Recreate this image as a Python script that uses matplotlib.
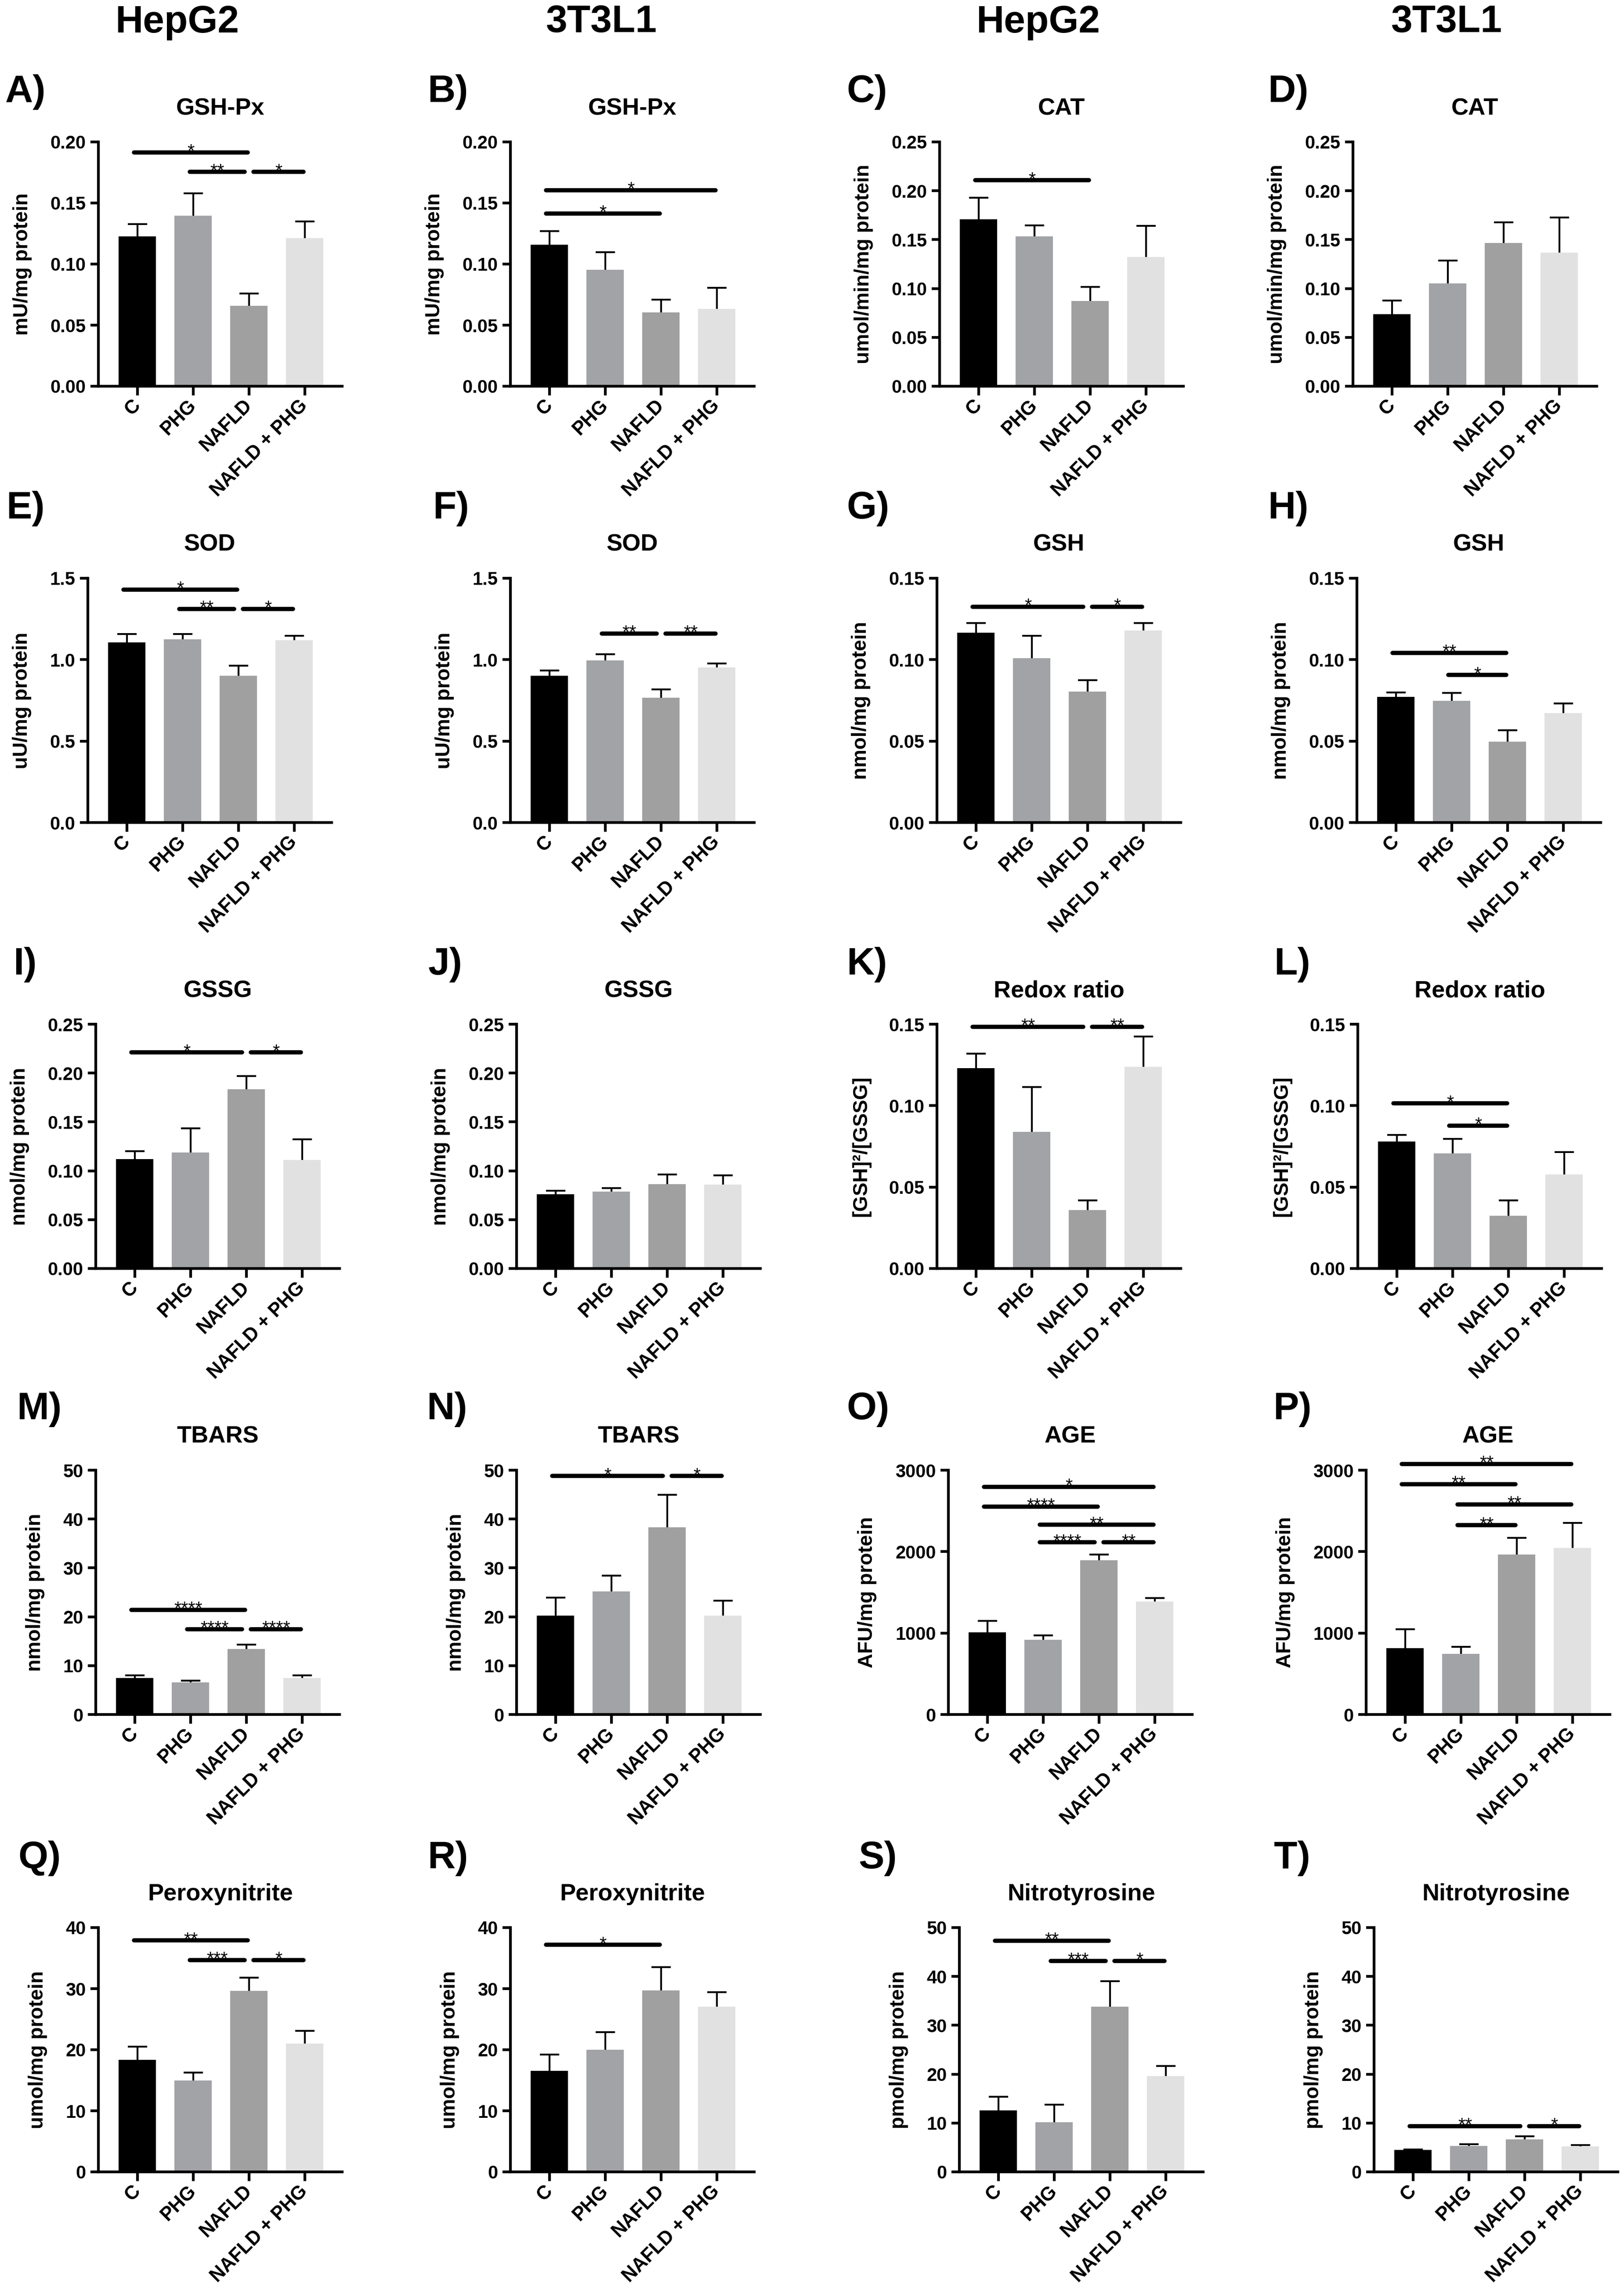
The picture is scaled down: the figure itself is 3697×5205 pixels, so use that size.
import numpy as np
import matplotlib
matplotlib.use('Agg')
import matplotlib.pyplot as plt
from matplotlib.ticker import FormatStrFormatter

plt.rcParams['font.family'] = ['Liberation Sans', 'DejaVu Sans']
plt.rcParams['font.weight'] = 'bold'
plt.rcParams['axes.linewidth'] = 1.5

# ---------------- data ----------------
groups = ['C', 'PHG', 'NAFLD', 'NAFLD + PHG']
bar_colors = ['#000000', '#a2a3a7', '#a0a0a0', '#e1e1e1']
column_headers = ['HepG2', '3T3L1', 'HepG2', '3T3L1']

# means / SEM
gshpx_hepg2 = [0.1228, 0.1394, 0.0659, 0.1212]
gshpx_hepg2_err = [0.0099, 0.0186, 0.0101, 0.0136]
gshpx_3t3 = [0.116, 0.0953, 0.0604, 0.0634]
gshpx_3t3_err = [0.011, 0.0144, 0.0103, 0.017]
cat_hepg2 = [0.1708, 0.1533, 0.0873, 0.1323]
cat_hepg2_err = [0.0221, 0.0112, 0.0143, 0.0319]
cat_3t3 = [0.0738, 0.1053, 0.1467, 0.1366]
cat_3t3_err = [0.014, 0.0233, 0.0212, 0.0359]
sod_hepg2 = [1.106, 1.125, 0.902, 1.119]
sod_hepg2_err = [0.051, 0.032, 0.061, 0.028]
sod_3t3 = [0.902, 0.995, 0.766, 0.953]
sod_3t3_err = [0.032, 0.038, 0.051, 0.023]
gsh_hepg2 = [0.1166, 0.101, 0.0804, 0.1179]
gsh_hepg2_err = [0.0058, 0.0137, 0.007, 0.0045]
gsh_3t3 = [0.0772, 0.0747, 0.0496, 0.0671]
gsh_3t3_err = [0.0026, 0.0048, 0.007, 0.006]
gssg_hepg2 = [0.112, 0.1185, 0.1836, 0.111]
gssg_hepg2_err = [0.008, 0.0249, 0.0134, 0.021]
gssg_3t3 = [0.0759, 0.0786, 0.0865, 0.086]
gssg_3t3_err = [0.0038, 0.0037, 0.0095, 0.0095]
redox_hepg2 = [0.123, 0.084, 0.036, 0.1237]
redox_hepg2_err = [0.0089, 0.0273, 0.0057, 0.0187]
redox_3t3 = [0.0779, 0.0708, 0.0325, 0.0576]
redox_3t3_err = [0.0041, 0.0089, 0.0092, 0.014]
tbars_hepg2 = [7.45, 6.6, 13.4, 7.45]
tbars_hepg2_err = [0.53, 0.3, 0.86, 0.53]
tbars_3t3 = [20.2, 25.2, 38.3, 20.2]
tbars_3t3_err = [3.7, 3.2, 6.7, 3.1]
age_hepg2 = [1009, 919, 1896, 1385]
age_hepg2_err = [140, 51, 70, 45]
age_3t3 = [817, 747, 1966, 2043]
age_3t3_err = [230, 83, 204, 312]
peroxy_hepg2 = [18.35, 15.0, 29.66, 20.99]
peroxy_hepg2_err = [2.18, 1.27, 2.13, 2.13]
peroxy_3t3 = [16.53, 20.0, 29.7, 27.06]
peroxy_3t3_err = [2.67, 2.9, 3.8, 2.39]
nitro_hepg2 = [12.55, 10.2, 33.8, 19.6]
nitro_hepg2_err = [2.79, 3.6, 5.2, 2.1]
nitro_3t3 = [4.5, 5.32, 6.65, 5.2]
nitro_3t3_err = [0.13, 0.38, 0.64, 0.31]

# significance brackets: (group i, group j, height, label)
sig_A = [(0, 2, 0.1915, '*'), (1, 2, 0.1754, '**'), (2, 3, 0.1754, '*')]
sig_B = [(0, 3, 0.1605, '*'), (0, 2, 0.1415, '*')]
sig_C = [(0, 2, 0.2107, '*')]
sig_D = []
sig_E = [(0, 2, 1.43, '*'), (1, 2, 1.312, '**'), (2, 3, 1.312, '*')]
sig_F = [(1, 2, 1.16, '**'), (2, 3, 1.16, '**')]
sig_G = [(0, 2, 0.1325, '*'), (2, 3, 0.1325, '*')]
sig_H = [(0, 2, 0.1042, '**'), (1, 2, 0.0906, '*')]
sig_I = [(0, 2, 0.221, '*'), (2, 3, 0.221, '*')]
sig_J = []
sig_K = [(0, 2, 0.1484, '**'), (2, 3, 0.1484, '**')]
sig_L = [(0, 2, 0.1014, '*'), (1, 2, 0.0877, '*')]
sig_M = [(0, 2, 21.4, '****'), (1, 2, 17.45, '****'), (2, 3, 17.45, '****')]
sig_N = [(0, 2, 48.8, '*'), (2, 3, 48.8, '*')]
sig_O = [(0, 3, 2796, '*'), (0, 2, 2553, '****'), (1, 3, 2330, '**'),
         (1, 2, 2113, '****'), (2, 3, 2113, '**')]
sig_P = [(0, 3, 3077, '**'), (0, 2, 2828, '**'), (1, 3, 2579, '**'), (1, 2, 2323, '**')]
sig_Q = [(0, 2, 37.9, '**'), (1, 2, 34.7, '***'), (2, 3, 34.7, '*')]
sig_R = [(0, 2, 37.16, '*')]
sig_S = [(0, 2, 47.3, '**'), (1, 2, 43.2, '***'), (2, 3, 43.2, '*')]
sig_T = [(0, 2, 9.38, '**'), (2, 3, 9.38, '*')]

titles = ['GSH-Px', 'GSH-Px', 'CAT', 'CAT',
          'SOD', 'SOD', 'GSH', 'GSH',
          'GSSG', 'GSSG', 'Redox ratio', 'Redox ratio',
          'TBARS', 'TBARS', 'AGE', 'AGE',
          'Peroxynitrite', 'Peroxynitrite', 'Nitrotyrosine', 'Nitrotyrosine']
ylabels = ['mU/mg protein', 'mU/mg protein', 'umol/min/mg protein', 'umol/min/mg protein',
           'uU/mg protein', 'uU/mg protein', 'nmol/mg protein', 'nmol/mg protein',
           'nmol/mg protein', 'nmol/mg protein', '[GSH]\u00b2/[GSSG]', '[GSH]\u00b2/[GSSG]',
           'nmol/mg protein', 'nmol/mg protein', 'AFU/mg protein', 'AFU/mg protein',
           'umol/mg protein', 'umol/mg protein', 'pmol/mg protein', 'pmol/mg protein']
letters = ['A)', 'B)', 'C)', 'D)', 'E)', 'F)', 'G)', 'H)', 'I)', 'J)',
           'K)', 'L)', 'M)', 'N)', 'O)', 'P)', 'Q)', 'R)', 'S)', 'T)']
ymax = [0.20, 0.20, 0.25, 0.25, 1.5, 1.5, 0.15, 0.15, 0.25, 0.25,
        0.15, 0.15, 50, 50, 3000, 3000, 40, 40, 50, 50]
ystep = [0.05, 0.05, 0.05, 0.05, 0.5, 0.5, 0.05, 0.05, 0.05, 0.05,
         0.05, 0.05, 10, 10, 1000, 1000, 10, 10, 10, 10]
yfmt = ['%.2f'] * 4 + ['%.1f'] * 2 + ['%.2f'] * 6 + ['%d'] * 8

means = [gshpx_hepg2, gshpx_3t3, cat_hepg2, cat_3t3,
         sod_hepg2, sod_3t3, gsh_hepg2, gsh_3t3,
         gssg_hepg2, gssg_3t3, redox_hepg2, redox_3t3,
         tbars_hepg2, tbars_3t3, age_hepg2, age_3t3,
         peroxy_hepg2, peroxy_3t3, nitro_hepg2, nitro_3t3]
errs = [gshpx_hepg2_err, gshpx_3t3_err, cat_hepg2_err, cat_3t3_err,
        sod_hepg2_err, sod_3t3_err, gsh_hepg2_err, gsh_3t3_err,
        gssg_hepg2_err, gssg_3t3_err, redox_hepg2_err, redox_3t3_err,
        tbars_hepg2_err, tbars_3t3_err, age_hepg2_err, age_3t3_err,
        peroxy_hepg2_err, peroxy_3t3_err, nitro_hepg2_err, nitro_3t3_err]
sigs = [sig_A, sig_B, sig_C, sig_D, sig_E, sig_F, sig_G, sig_H, sig_I, sig_J,
        sig_K, sig_L, sig_M, sig_N, sig_O, sig_P, sig_Q, sig_R, sig_S, sig_T]

# ---------------- layout (pixels) ----------------
W, H = 3697, 5205
fig = plt.figure(figsize=(W / 300, H / 300), dpi=300)
fig.patch.set_facecolor('white')

ax_left = [224, 1162, 2139, 3080,
           200, 1162, 2133, 3089,
           218, 1176, 2133, 3091,
           218, 1176, 2159, 3110,
           224, 1162, 2184, 3128]
row_top = [323, 1316, 2331, 3346, 4387]
ax_w, ax_h = 555, 556
letter_x = [12, 973, 1927, 2886,
            14, 985, 1927, 2886,
            30, 975, 1927, 2900,
            38, 971, 1927, 2898,
            41, 973, 1954, 2900]
letter_y = [210, 1158, 2195, 3207, 4229]
header_x = [403, 1368, 2363, 3292]


def fx(px):
    return px / W


def fy(py):
    return 1 - py / H


x = np.arange(len(groups))
for k in range(20):
    r = k // 4
    left = ax_left[k]
    top = row_top[r]
    ax = fig.add_axes([fx(left), fy(top + ax_h), ax_w / W, ax_h / H])
    ax.bar(x, means[k], width=0.67, color=bar_colors, zorder=2)
    ax.errorbar(x, means[k], yerr=errs[k], fmt='none', ecolor='black',
                elinewidth=1.0, capsize=5.3, capthick=1.0, zorder=1)
    ax.set_xlim(-0.70, 3.67)
    ax.set_ylim(0, ymax[k])
    ax.set_yticks(np.arange(0, ymax[k] + ystep[k] * 0.5, ystep[k]))
    ax.yaxis.set_major_formatter(FormatStrFormatter(yfmt[k]))
    ax.set_xticks(x)
    ax.set_xticklabels(groups, rotation=45, ha='right', va='center',
                       rotation_mode='anchor', fontweight='bold')
    for s in ['top', 'right']:
        ax.spines[s].set_visible(False)
    for s in ['left', 'bottom']:
        ax.spines[s].set_linewidth(1.5)
    ax.tick_params(axis='x', length=5, width=1.5, pad=4, labelsize=10.5)
    ax.tick_params(axis='y', length=4.3, width=1.5, pad=2.5, labelsize=10)
    for t in ax.get_yticklabels():
        t.set_fontweight('bold')
    ax.set_ylabel(ylabels[k], fontsize=11, fontweight='bold', labelpad=10)

    # significance brackets
    comps = sigs[k]
    for (i, j, yv, lab) in comps:
        shared_start = any(c[1] == i and c[2] == yv for c in comps)
        shared_end = any(c[0] == j and c[2] == yv for c in comps)
        x0 = i + 0.08 if shared_start else i - 0.06
        x1 = j - 0.08 if shared_end else j - 0.02
        ax.plot([x0, x1], [yv, yv], color='black', lw=2.3,
                solid_capstyle='round', clip_on=False, zorder=3)
        ax.annotate(lab, xy=((x0 + x1) / 2, yv), xytext=(0, -2.5),
                    textcoords='offset points', ha='center', va='baseline',
                    fontsize=10, fontweight='normal', annotation_clip=False)

    # title and panel letter
    fig.text(fx(left + ax_w / 2), fy(top - 76), titles[k], ha='center', va='center',
             fontsize=13, fontweight='bold')
    fig.text(fx(letter_x[k]), fy(letter_y[r]), letters[k], ha='left', va='center',
             fontsize=21, fontweight='bold')

for c in range(4):
    fig.text(fx(header_x[c]), fy(51), column_headers[c], ha='center', va='center',
             fontsize=21, fontweight='bold')

fig.savefig('out.png', dpi=300, facecolor='white')
